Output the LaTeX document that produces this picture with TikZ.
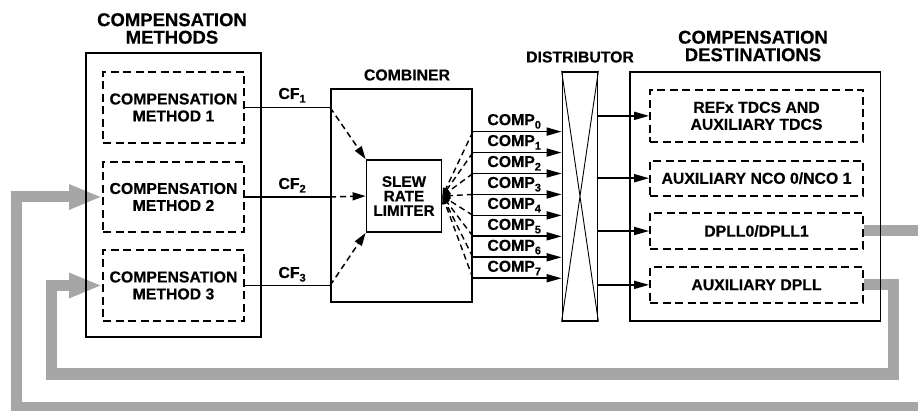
\documentclass[tikz,border=0pt]{standalone}
\usepackage{fontspec}
\setmainfont{Liberation Sans}[BoldFeatures={FakeBold=0.4}]
\usepackage{tikz}
\usetikzlibrary{arrows.meta,backgrounds,calc}
\definecolor{fbgray}{RGB}{166,166,166}
\newcommand{\sbs}[1]{\raisebox{-3.5pt}{\fontsize{11}{11}\selectfont #1}}

\begin{document}
\begin{tikzpicture}[x=1pt,y=-1pt,
    every node/.style={font=\bfseries\fontsize{15.8}{17}\selectfont},
    hdr/.style={align=center,font=\bfseries\fontsize{18.5}{17.5}\selectfont},
    box/.style={draw,line width=1.8pt,inner sep=0pt,align=center},
    dbox/.style={box,dash pattern=on 8pt off 4.5pt},
    wire/.style={line width=1.7pt},
    tip/.style={-{Triangle[length=15pt,width=8pt]}},
    dwire/.style={line width=1.5pt,dash pattern=on 6pt off 4pt,-{Triangle[length=13pt,width=8pt]}},
    dback/.style={line width=1.4pt,dash pattern=on 6pt off 4pt,-{Triangle[length=8pt,width=6pt]}},
    fb/.style={draw=fbgray,line width=11pt,-{Triangle[length=33pt,width=23pt]}}]
          	\useasboundingbox (0,0) rectangle (918,411);
            \node[hdr] (methlbl) at (172,28.5) {COMPENSATION\\METHODS};
            \node (comblbl) at (407,75) {COMBINER};
            \node (distlbl) at (580,57) {DISTRIBUTOR};
            \node[hdr] (destlbl) at (753,46) {COMPENSATION\\DESTINATIONS};
            \node[box,minimum width=175pt,minimum height=284pt] (meth) at (173.5,195) {};
            \node[dbox,minimum width=141pt,minimum height=71pt] (m1) at (173.5,107.5) {COMPENSATION\\METHOD 1};
            \node[dbox,minimum width=141pt,minimum height=70pt] (m2) at (173.5,197) {COMPENSATION\\METHOD 2};
            \node[dbox,minimum width=141pt,minimum height=71pt] (m3) at (173.5,285.5) {COMPENSATION\\METHOD 3};
            \node[box,minimum width=141pt,minimum height=213pt] (comb) at (401.5,195.5) {};
            \node[box,minimum width=75pt,minimum height=72pt,font=\bfseries\fontsize{15.3}{14.5}\selectfont] (slew) at (404,196) {SLEW\\RATE\\LIMITER};
            \node[box,minimum width=35pt,minimum height=249pt] (dist) at (580,196.3) {};
            \node[box,minimum width=250.5pt,minimum height=249pt] (dest) at (755.25,196.2) {};
            \node[dbox,minimum width=213pt,minimum height=51.7pt] (tdc) at (756.5,115.85) {REFx TDCS AND\\AUXILIARY TDCS};
            \node[dbox,minimum width=213pt,minimum height=35pt] (nco) at (756.5,178.2) {AUXILIARY NCO 0/NCO 1};
            \node[dbox,minimum width=213pt,minimum height=36pt] (dpll) at (756.5,231) {DPLL0/DPLL1};
            \node[dbox,minimum width=213pt,minimum height=35.7pt] (auxdpll) at (756.5,284.85) {AUXILIARY DPLL};
            \coordinate (cf1) at (m1.east -| comb.west);
            \coordinate (cf2) at (m2.east -| comb.west);
            \coordinate (cf3) at (m3.east -| comb.west);
             \draw[wire] (m1.east) -- (cf1);
             \draw[wire] (m2.east) -- (cf2);
             \draw[wire] (m3.east) -- (cf3);
             \draw[dwire] (cf1) -- (slew.north west);
             \draw[dwire] (cf2) -- (slew.west);
             \draw[dwire] (cf3) -- (slew.south west);
             \node[anchor=base] (cf1lbl) at ([shift={(-38,-8.5)}]cf1) {CF\sbs{1}};
             \node[anchor=base] (cf2lbl) at ([shift={(-38,-8)}]cf2) {CF\sbs{2}};
             \node[anchor=base] (cf3lbl) at ([shift={(-38,-7.5)}]cf3) {CF\sbs{3}};
             \foreach \i in {0,...,7}{
               \path (comb.east) ++(0,{-63.9+20.95*\i}) coordinate (comp\i);
               \draw[wire,tip] (comp\i) -- (comp\i -| dist.west);
               \draw[dback] (comp\i) -- (slew.east);
               \node[anchor=base west] (complbl\i) at ([shift={(11,-6.5)}]comp\i) {COMP\sbs{\i}};
             }
             \draw[line width=0.9pt] (dist.north west) -- (dist.south east) (dist.north east) -- (dist.south west);
             \foreach \d in {tdc,nco,dpll,auxdpll}
               \draw[wire,tip] (dist.east |- \d.west) -- (\d.west);
             \begin{scope}[on background layer]
               \draw[fb] (dpll.east) -- ++(70,0) |- (16,407.5) |- (m2.west);
               \draw[fb] (auxdpll.east) -- ++(29.5,0) |- (51,374) |- (m3.west);
             \end{scope}
      \end{tikzpicture}
\end{document}
